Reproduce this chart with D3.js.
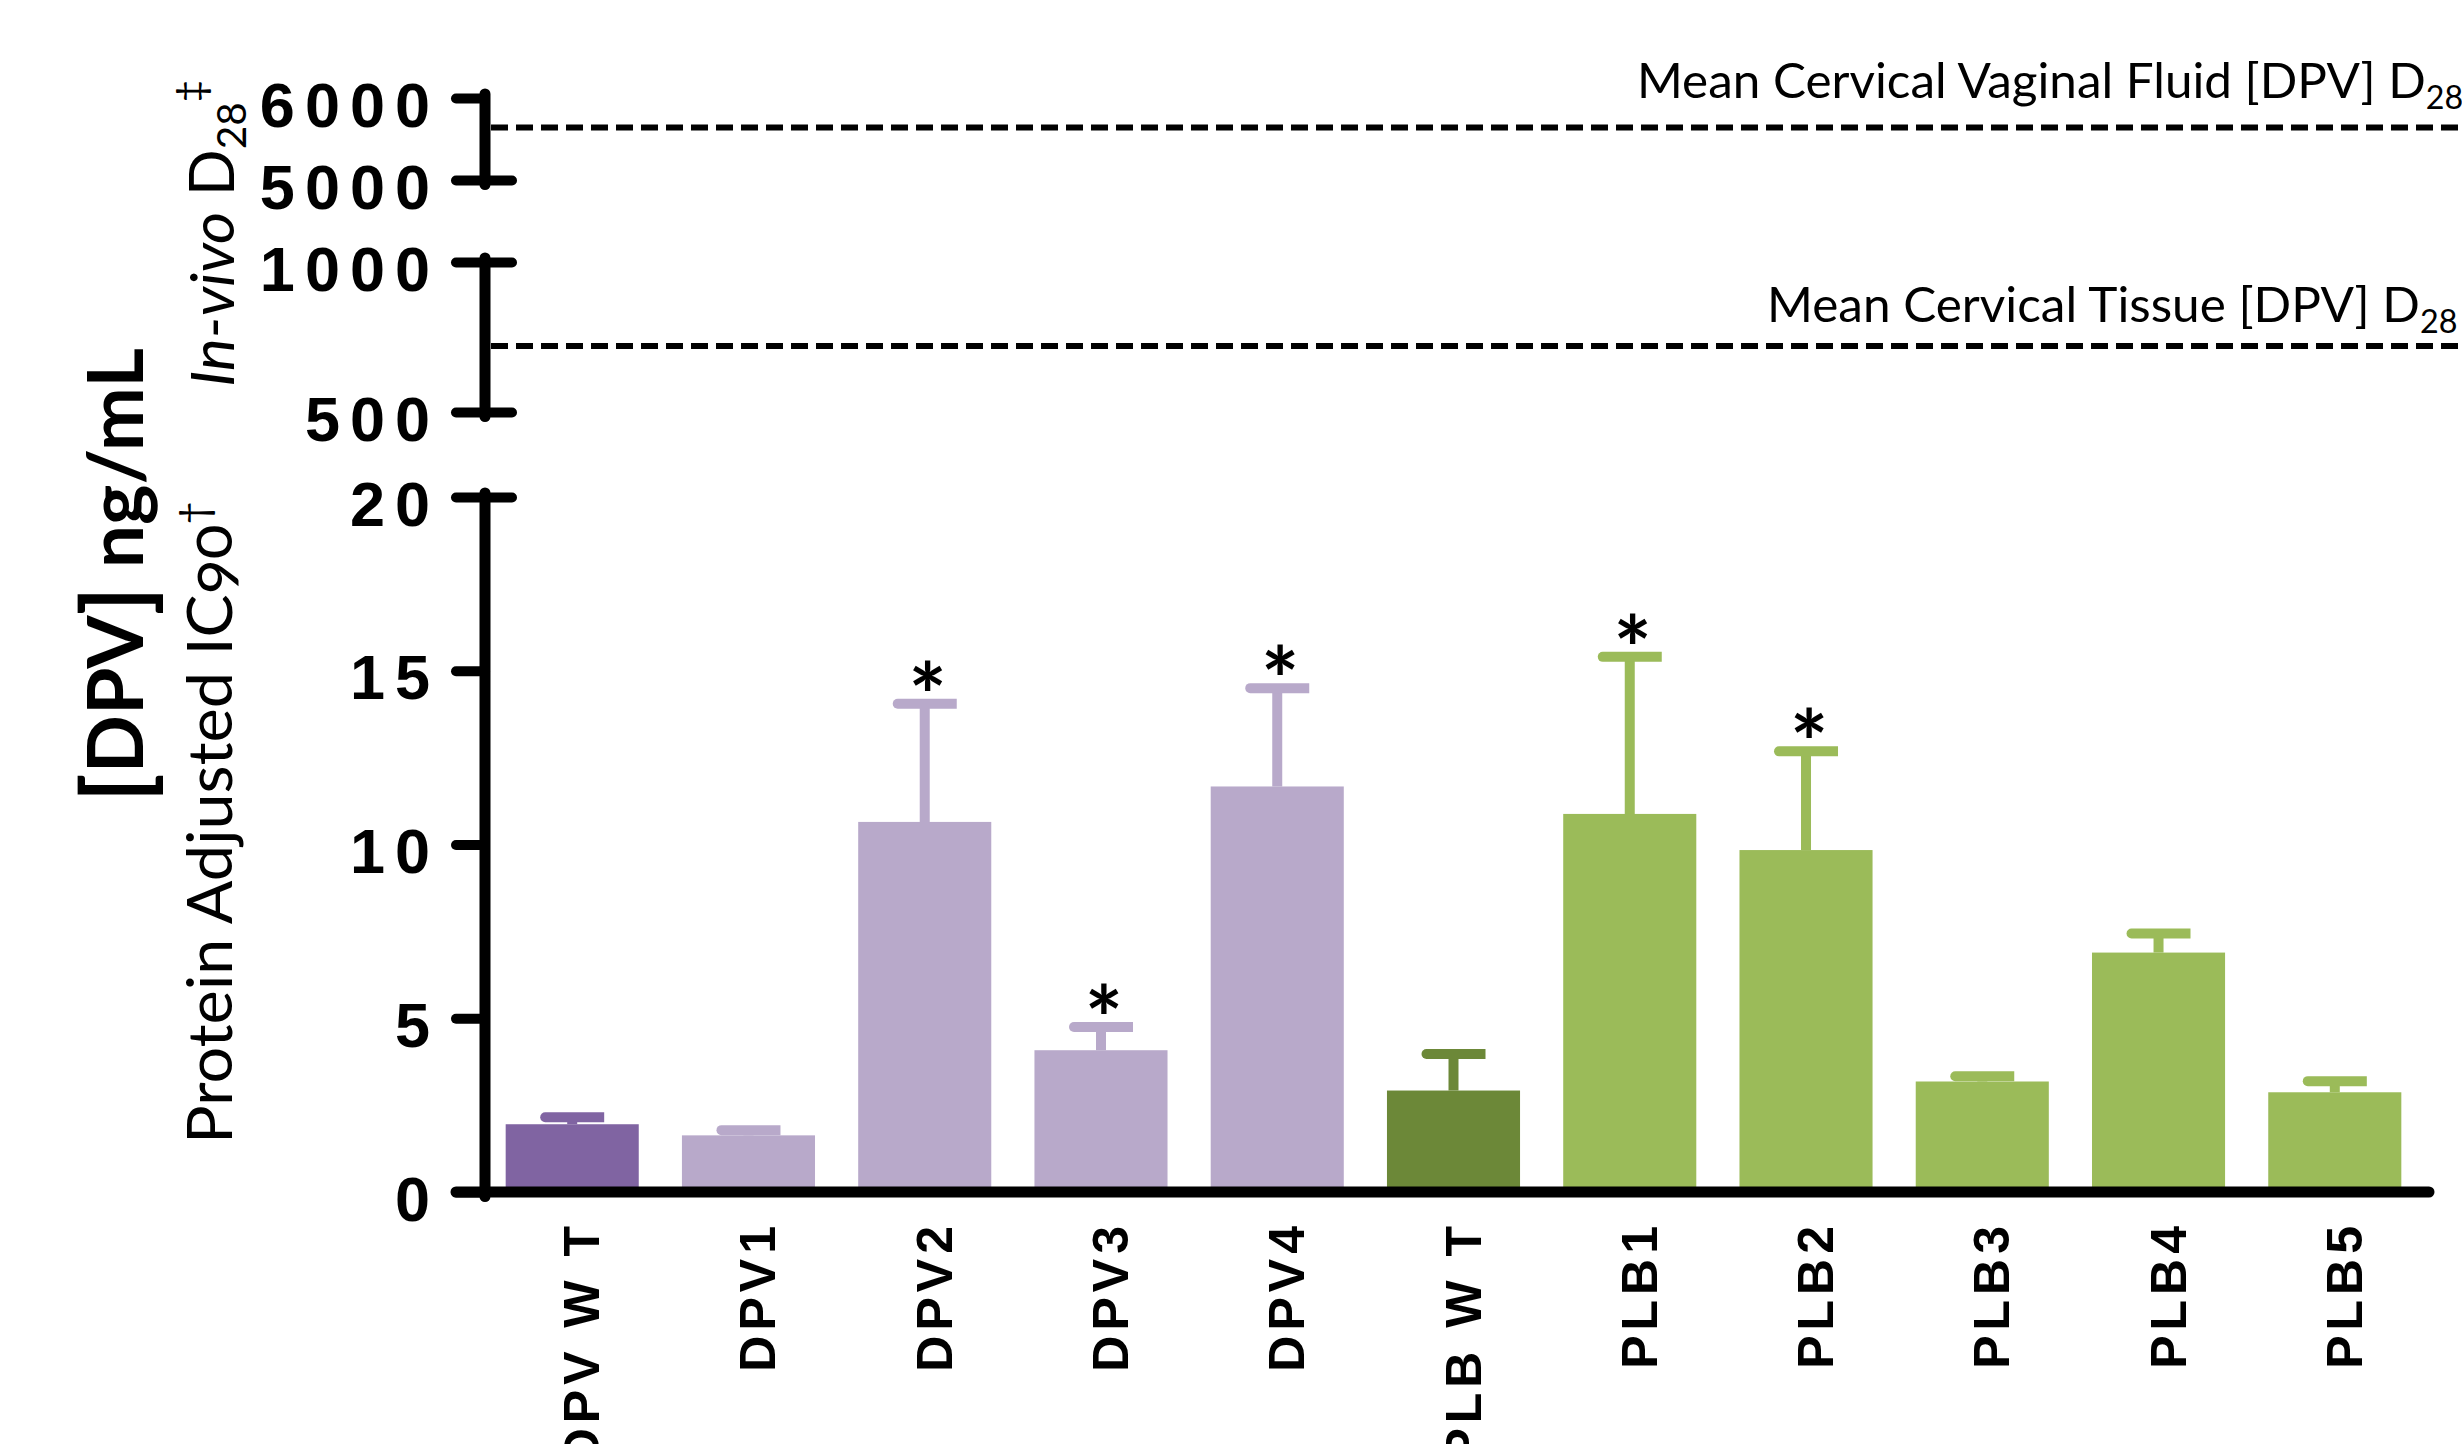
<!DOCTYPE html>
<html>
<head>
<meta charset="utf-8">
<script src="https://cdn.jsdelivr.net/npm/d3@7"></script>
<style>
  html, body { margin: 0; padding: 0; background: #fff; overflow: hidden; }
  svg { display: block; }
</style>
</head>
<body>
<svg id="chart" width="2462" height="1444"></svg>
<script>
// ---- data ----
const groups = ["DPV W T", "DPV1", "DPV2", "DPV3", "DPV4", "PLB W T", "PLB1", "PLB2", "PLB3", "PLB4", "PLB5"];
const means = [1.95, 1.63, 10.65, 4.08, 11.67, 2.92, 10.88, 9.84, 3.18, 6.89, 2.87];
const sdUpper = [0.20, 0.15, 3.40, 0.67, 2.83, 1.05, 4.52, 2.84, 0.15, 0.55, 0.32];
const significant = [false, false, true, true, true, false, true, true, false, false, false];

const lowTicks = [0, 5, 10, 15, 20];
const midTicks = [500, 1000];
const topTicks = [5000, 6000];

const refLabels = ["Mean Cervical Vaginal Fluid [DPV] D", "Mean Cervical Tissue [DPV] D"];
const refValues = [5640, 720];

// ---- layout ----
const W = 2462, H = 1444;
const svg = d3.select("#chart");
const axisX = 485;
const BOLD = "'Liberation Sans', Arial, sans-serif";
const TITLE = "Lato, 'Open Sans', sans-serif";

const yLow = d3.scaleLinear().domain([0, 20]).range([1192, 497]);
const yMid = d3.scaleLinear().domain([500, 1000]).range([412, 262]);
const yTop = d3.scaleLinear().domain([5000, 6000]).range([180, 98]);

const x = d3.scaleBand().domain(groups).range([481, 2426])
  .paddingInner(0.245).paddingOuter(0.14);

const palette = {
  DPV: { wt: "#8064A2", variant: "#B8A9CA" },
  PLB: { wt: "#6C8838", variant: "#9BBB59" }
};
const colorOf = g => palette[g.slice(0, 3)][/W T$/.test(g) ? "wt" : "variant"];

// stretch/compress a text element along its reading direction to a target length
function fitLength(textSel, target, baseTransform) {
  const len = textSel.node().getComputedTextLength();
  const s = target / len;
  textSel.attr("transform", `${baseTransform} scale(${s},1)`);
}

// ---- reference (in-vivo) dashed lines with their labels ----
const refScales = [yTop, yMid];
const refLabelOffset = [30, 24];
const refLabelStart = [1637, 1767];
const refLabelEndD = [2426, 2420];
refValues.forEach((v, i) => {
  const yy = refScales[i](v);
  svg.append("line")
    .attr("x1", axisX + 6).attr("x2", W + 10)
    .attr("y1", yy).attr("y2", yy)
    .attr("stroke", "#000").attr("stroke-width", 6)
    .attr("stroke-dasharray", "17 8");

  const t = svg.append("text")
    .attr("font-family", TITLE).attr("font-size", 49).attr("fill", "#000");
  const main = t.append("tspan").text(refLabels[i]);
  t.append("tspan").attr("font-size", 32).attr("dy", 11).text("28");
  const len = main.node().getComputedTextLength();
  const s = (refLabelEndD[i] - refLabelStart[i]) / len;
  t.attr("transform", `translate(${refLabelStart[i]},${yy - refLabelOffset[i]}) scale(${s},1)`);
});

// ---- bars ----
const bars = svg.append("g");
groups.forEach((g, i) => {
  const cx = x(g) + x.bandwidth() / 2;
  const col = colorOf(g);
  bars.append("rect")
    .attr("x", x(g)).attr("width", x.bandwidth())
    .attr("y", yLow(means[i])).attr("height", yLow(0) - yLow(means[i]))
    .attr("fill", col);

  const topV = means[i] + sdUpper[i];
  const yc = yLow(topV);
  // upper error whisker
  bars.append("line")
    .attr("x1", cx).attr("x2", cx)
    .attr("y1", yLow(means[i])).attr("y2", yc)
    .attr("stroke", col).attr("stroke-width", 10);
  // cap with rounded left end
  const hw = 32, r = 5;
  bars.append("path")
    .attr("d", `M${cx + hw},${yc - r} H${cx - hw + r} A${r},${r} 0 0 0 ${cx - hw + r},${yc + r} H${cx + hw} Z`)
    .attr("fill", col);

  if (significant[i]) {
    bars.append("text")
      .attr("x", cx + 3).attr("y", yc + 25)
      .attr("text-anchor", "middle")
      .attr("font-family", TITLE).attr("font-weight", "bold").attr("font-size", 90)
      .attr("fill", "#000").text("*");
  }
});

// ---- broken y axis: three segments ----
const segments = [
  { scale: yTop, ticks: topTicks, both: [5000] },
  { scale: yMid, ticks: midTicks, both: [500, 1000] },
  { scale: yLow, ticks: lowTicks, both: [20] }
];
segments.forEach(seg => {
  const g = svg.append("g").attr("transform", `translate(${axisX},0)`)
    .call(d3.axisLeft(seg.scale).tickValues(seg.ticks)
      .tickSize(29).tickPadding(16).tickFormat(d3.format("d")));
  g.select(".domain").remove();
  g.selectAll(".tick line")
    .attr("stroke", "#000").attr("stroke-width", 10).attr("stroke-linecap", "round")
    .attr("x1", d => seg.both.includes(d) ? 27 : 0);
  g.selectAll(".tick text")
    .attr("font-family", BOLD).attr("font-weight", "bold")
    .attr("font-size", 63).attr("letter-spacing", 10)
    .attr("fill", "#000").attr("dy", 28);

  const [lo, hi] = seg.scale.domain();
  svg.append("line")
    .attr("x1", axisX).attr("x2", axisX)
    .attr("y1", seg.scale(hi) - 4).attr("y2", seg.scale(lo) + 4.5)
    .attr("stroke", "#000").attr("stroke-width", 11).attr("stroke-linecap", "round");
});

// ---- x axis ----
svg.append("line")
  .attr("x1", 456).attr("x2", 2429)
  .attr("y1", yLow(0)).attr("y2", yLow(0))
  .attr("stroke", "#000").attr("stroke-width", 11).attr("stroke-linecap", "round");

const xl = svg.append("g");
groups.forEach(g => {
  const cx = x(g) + x.bandwidth() / 2;
  xl.append("text")
    .attr("transform", `translate(${cx + 27},1221) rotate(-90)`)
    .attr("text-anchor", "end")
    .attr("font-family", BOLD).attr("font-weight", "bold")
    .attr("font-size", 50).attr("letter-spacing", 5)
    .attr("fill", "#000").text(g);
});

// ---- y axis titles ----
const t1 = svg.append("text")
  .attr("font-family", TITLE).attr("font-weight", "bold")
  .attr("font-size", 77).attr("fill", "#000");
t1.append("tspan").attr("font-size", 92).attr("dy", 6).text("[");
t1.append("tspan").attr("dy", -6).text("DPV");
t1.append("tspan").attr("font-size", 92).attr("dy", 6).text("]");
t1.append("tspan").attr("dy", -6).text(" ng/mL");
fitLength(t1, 454, "translate(143,802) rotate(-90)");

const t2 = svg.append("text")
  .attr("font-family", TITLE).attr("font-size", 61).attr("fill", "#000");
t2.append("tspan").text("Protein Adjusted IC");
t2.append("tspan").style("font-variant-numeric", "oldstyle-nums").text("90");
t2.append("tspan").attr("font-size", 38).attr("dy", -24).text("†");
fitLength(t2, 643, "translate(232,1144) rotate(-90)");

const t3 = svg.append("text")
  .attr("font-family", TITLE).attr("font-size", 61).attr("fill", "#000");
t3.append("tspan").attr("font-style", "italic").text("In-vivo");
t3.append("tspan").text(" D");
t3.append("tspan").attr("font-size", 40).attr("dy", 12).text("28");
t3.append("tspan").attr("font-size", 38).attr("dy", -42).text("‡");
fitLength(t3, 307, "translate(234,387) rotate(-90)");
</script>
</body>
</html>
